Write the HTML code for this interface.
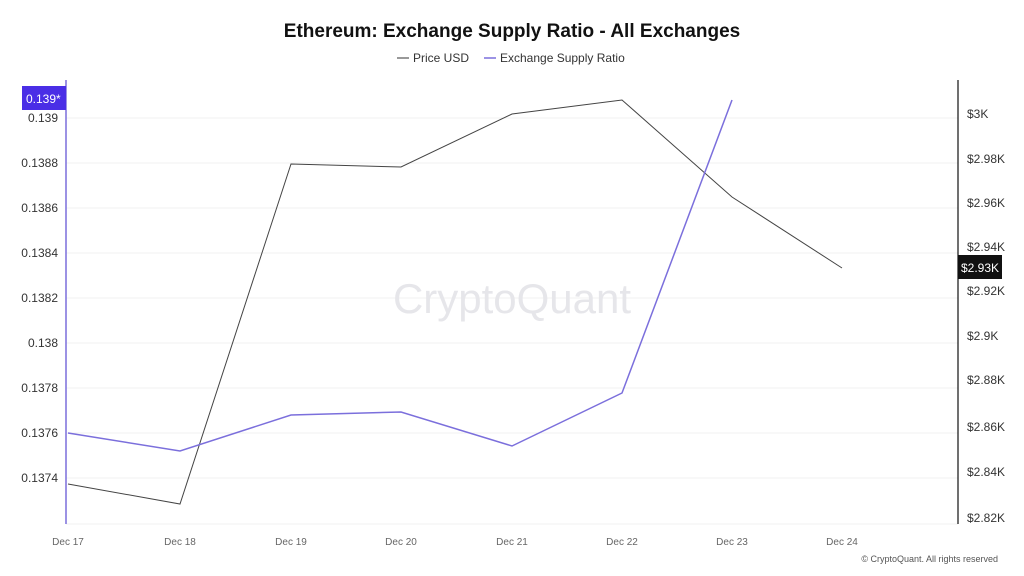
<!DOCTYPE html>
<html><head><meta charset="utf-8"><style>
html,body{margin:0;padding:0;background:#fff;}
svg{display:block;font-family:"Liberation Sans",sans-serif;}
</style></head><body>
<svg width="1024" height="576" viewBox="0 0 1024 576">
<rect width="1024" height="576" fill="#fff"/>
<text x="512" y="37" text-anchor="middle" font-size="19" font-weight="bold" fill="#111">Ethereum: Exchange Supply Ratio - All Exchanges</text>
<line x1="397" y1="58" x2="409" y2="58" stroke="#333" stroke-width="1"/>
<text x="413" y="62" font-size="12" fill="#333">Price USD</text>
<line x1="484" y1="58" x2="496" y2="58" stroke="#7b6fdc" stroke-width="1.5"/>
<text x="500" y="62" font-size="12" fill="#333">Exchange Supply Ratio</text>
<g stroke="#f0f0f0" stroke-width="1">
<line x1="66" y1="118" x2="958" y2="118"/><line x1="66" y1="163" x2="958" y2="163"/>
<line x1="66" y1="208" x2="958" y2="208"/><line x1="66" y1="253" x2="958" y2="253"/>
<line x1="66" y1="298" x2="958" y2="298"/><line x1="66" y1="343" x2="958" y2="343"/>
<line x1="66" y1="388" x2="958" y2="388"/><line x1="66" y1="433" x2="958" y2="433"/>
<line x1="66" y1="478" x2="958" y2="478"/><line x1="66" y1="524" x2="958" y2="524"/>
</g>
<text x="512" y="313" text-anchor="middle" font-size="42" fill="#e6e6ea">CryptoQuant</text>
<line x1="66" y1="80" x2="66" y2="524" stroke="#7b6fdc" stroke-width="1.5"/>
<line x1="958" y1="80" x2="958" y2="524" stroke="#111" stroke-width="1.2"/>
<g font-size="12" fill="#333" text-anchor="end">
<text x="58" y="122">0.139</text><text x="58" y="167">0.1388</text><text x="58" y="212">0.1386</text>
<text x="58" y="257">0.1384</text><text x="58" y="302">0.1382</text><text x="58" y="347">0.138</text>
<text x="58" y="392">0.1378</text><text x="58" y="437">0.1376</text><text x="58" y="482">0.1374</text>
</g>
<g font-size="12" fill="#333">
<text x="967" y="118">$3K</text><text x="967" y="163">$2.98K</text><text x="967" y="207">$2.96K</text>
<text x="967" y="251">$2.94K</text><text x="967" y="295">$2.92K</text><text x="967" y="340">$2.9K</text>
<text x="967" y="384">$2.88K</text><text x="967" y="431">$2.86K</text><text x="967" y="476">$2.84K</text>
<text x="967" y="522">$2.82K</text>
</g>
<rect x="22" y="86" width="44" height="24" fill="#4a2ee6"/>
<text x="26" y="103" font-size="12" fill="#fff">0.139*</text>
<rect x="958" y="255" width="44" height="24" fill="#111"/>
<text x="961" y="272" font-size="12" fill="#fff">$2.93K</text>
<g font-size="10" fill="#666" text-anchor="middle">
<text x="68" y="545">Dec 17</text><text x="180" y="545">Dec 18</text><text x="291" y="545">Dec 19</text>
<text x="401" y="545">Dec 20</text><text x="512" y="545">Dec 21</text><text x="622" y="545">Dec 22</text>
<text x="732" y="545">Dec 23</text><text x="842" y="545">Dec 24</text>
</g>
<text x="998" y="562" text-anchor="end" font-size="9" fill="#555">© CryptoQuant. All rights reserved</text>
<polyline fill="none" stroke="#444" stroke-width="1" points="68,484 180,504 291,164 401,167 512,114 622,100 732,197 842,268"/>
<polyline fill="none" stroke="#7b6fdc" stroke-width="1.5" points="68,433 180,451 291,415 401,412 512,446 622,393 732,100"/>
</svg>
</body></html>
